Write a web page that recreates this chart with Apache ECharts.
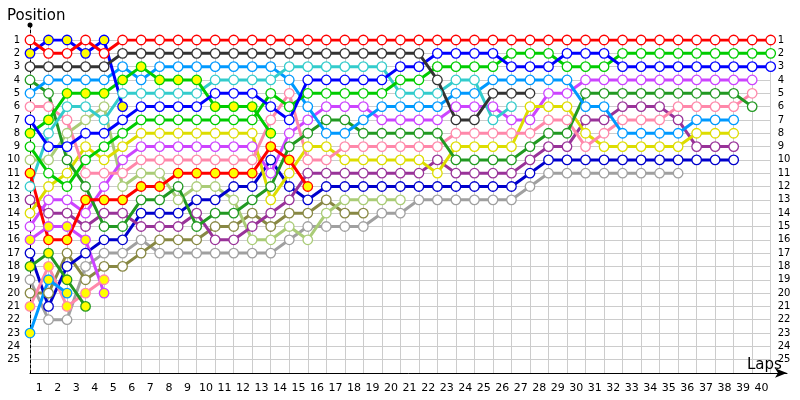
<!DOCTYPE html>
<html><head><meta charset="utf-8">
<script src="https://cdn.jsdelivr.net/npm/echarts@6/dist/echarts.min.js"></script>
<style>html,body{margin:0;padding:0;background:#fff}#c{width:800px;height:400px}</style>
</head><body><div id="c"></div>
<script>
// Tick labels
const lapLabels = ['1','2','3','4','5','6','7','8','9','10','11','12','13','14','15','16','17','18','19','20',
  '21','22','23','24','25','26','27','28','29','30','31','32','33','34','35','36','37','38','39','40'];
const posLabels = ['1','2','3','4','5','6','7','8','9','10','11','12','13','14','15','16','17','18','19','20','21','22','23','24','25'];

// Positions per lap, starting at lap 0 (grid)
const redA    = [1,2,2,1,2, 1,1,1,1,1, 1,1,1,1,1, 1,1,1,1,1, 1,1,1,1,1, 1,1,1,1,1, 1,1,1,1,1, 1,1,1,1,1, 1];
const blueB   = [2,1,1,2,1,6];
const darkA   = [3,3,3,3,3, 2,2,2,2,2, 2,2,2,2,2, 2,2,2,2,2, 2,2,4,7,7, 5,5,5];
const dgreenA = [4,5,10,12,15, 15,13,13,12,15, 14,14,13,12,9, 8,7,7,8,8, 8,8,8,10,10, 10,10,9,8,8, 5,5,5,5,5, 5,5,5,5,6];
const lblueA  = [5,4,4,4,4, 3,4,3,3,3, 3,3,3,3,4, 6,8,8,7,6, 6,6,6,5,5, 4,4,4,4,4, 6,6,8,8,8, 8,7,7,7];
const pinkA   = [6,6,7,11,11, 11,10,10,10,10, 10,10,10,7,5, 10,10,9,9,9, 9,9,9,8,8, 8,8,8,7,7, 9,8,7,7,7, 6,6,6,6,5];
const blueA   = [7,9,9,8,8, 7,6,6,6,6, 5,5,5,6,7, 4,4,4,4,4, 3,3,2,2,2, 2,3,3,3,2, 2,2,3,3,3, 3,3,3,3,3, 3];
const greenB  = [8,7,5,5,5, 4,3,4,4,4, 6,6,6,8];
const greenA  = [9,11,12,10,9, 8,7,7,7,7, 7,7,7,5,6, 5,5,5,5,5, 4,4,3,3,3, 3,2,2,2,3, 3,3,2,2,2, 2,2,2,2,2, 2];
const limeA   = [10,10,8,7,6, 12,11,11,13,12, 12,13,16,16,15, 16,14,13,13,13, 13];
const redB    = [11,16,16,13,13, 13,12,12,11,11, 11,11,11,9,10, 12];
const cyanA   = [12,8,6,6,7, 5,5,5,5,5, 4,4,4,4,3, 3,3,3,3,3, 5,5,5,4,4, 7,6];
const purpleA = [13,14,14,15,14, 14,15,15,15,14, 16,16,15,14,13, 11,11,11,11,11, 11,11,10,11,11, 11,11,10,9,9, 7,7,6,6,6, 7,9,9,9];
const yellowA = [14,12,11,9,10, 9,8,8,8,8, 8,8,8,13,11, 9,9,10,10,10, 10,10,11,9,9, 9,9,6,6,6, 8,9,9,9,9, 9,8,8,8];
const violetA = [15,13,13,14,12, 10,9,9,9,9, 9,9,9,11,8, 7,6,6,6,7, 7,7,7,6,6, 6,7,7,5,5, 4,4,4,4,4, 4,4,4,4,4];
const violetB = [16,15,15,16,20];
const navyA   = [17,21,18,17,16, 16,14,14,14,13, 13,12,12,10,12, 13,12,12,12,12, 12,12,12,12,12, 12,12,11,10,10, 10,10,10,10,10, 10,10,10,10];
const dgreenB = [18,17,19,21];
const greyA   = [19,22,22,18,17, 17,16,17,17,17, 17,17,17,17,16, 15,15,15,15,14, 14,13,13,13,13, 13,13,12,11,11, 11,11,11,11,11, 11];
const oliveA  = [20,20,17,19,18, 18,17,16,16,16, 15,15,14,15,14, 14,13,14,14];
const pinkB   = [21,18,21,20,19];
const lblueB  = [23,19,20];

// Styling per driver (line colour, marker fill)
const WHITE = '#ffffff', YEL = '#ffff00';
const drivers = [
  [greyA,'#a0a0a0',WHITE],[oliveA,'#888844',WHITE],[limeA,'#aacc77',WHITE],
  [navyA,'#0000cc',WHITE],[purpleA,'#993399',WHITE],[violetA,'#cc44ff',WHITE],[violetB,'#cc44ff',YEL],
  [yellowA,'#dddd00',WHITE],[pinkA,'#ff88aa',WHITE],[pinkB,'#ff88aa',YEL],
  [dgreenA,'#229922',WHITE],[dgreenB,'#229922',YEL],
  [lblueA,'#0099ff',WHITE],[lblueB,'#0099ff',YEL],[cyanA,'#33cccc',WHITE],
  [greenA,'#00cc00',WHITE],[greenB,'#00cc00',YEL],
  [redB,'#ff0000',YEL],[blueA,'#0000ff',WHITE],[blueB,'#0000ff',YEL],
  [darkA,'#333333',WHITE],[redA,'#ff0000',WHITE]
];

const FONT = 'DejaVu Sans';
const series = drivers.map(([arr,col,fill]) => ({
  type:'line', xAxisIndex:0, yAxisIndex:0,
  data: arr.map((p,i)=>[i,p]),
  symbol:'circle', symbolSize:9.5, showAllSymbol:true,
  lineStyle:{color:col, width:3},
  itemStyle:{color:fill, borderColor:col, borderWidth:1.3},
  emphasis:{disabled:true}, animation:false
}));

const chart = echarts.init(document.getElementById('c'), null, {renderer:'canvas'});
chart.setOption({
  animation:false,
  backgroundColor:'#ffffff',
  title:[
    {text:'Position', left:2, top:4, textStyle:{fontFamily:FONT, fontSize:15, fontWeight:'normal', color:'#000'}},
    {text:'Laps', left:742, top:353, textStyle:{fontFamily:FONT, fontSize:15, fontWeight:'normal', color:'#000'}}
  ],
  grid:[
    {left:30, right:29.3, top:40, bottom:27},
    {left:30, right:13, top:25, bottom:27}
  ],
  xAxis:[
    {gridIndex:0, type:'value', min:0, max:40, interval:1,
     axisLine:{show:false}, axisTick:{show:false}, axisLabel:{show:false},
     splitLine:{show:true, lineStyle:{color:'#cccccc', width:1}}},
    {gridIndex:0, type:'category', data:lapLabels, boundaryGap:true, position:'bottom',
     axisLine:{show:false}, axisTick:{show:false}, splitLine:{show:false},
     axisLabel:{interval:0, color:'#000', fontFamily:FONT, fontSize:11, margin:10}},
    {gridIndex:1, type:'value', min:0, max:1,
     axisLine:{show:true, lineStyle:{color:'#000', width:1}, symbol:['none','arrow'], symbolSize:[7,12]},
     axisTick:{show:false}, axisLabel:{show:false}, splitLine:{show:false}}
  ],
  yAxis:[
    {gridIndex:0, type:'value', min:1, max:26, interval:1, inverse:true,
     axisLine:{show:false}, axisTick:{show:false},
     axisLabel:{color:'#000', fontFamily:FONT, fontSize:10, margin:10, formatter:v=>posLabels[v-1]||''},
     splitLine:{show:true, lineStyle:{color:'#cccccc', width:1}}},
    {gridIndex:0, type:'value', min:1, max:26, interval:1, inverse:true, position:'right',
     axisLine:{show:false}, axisTick:{show:false}, splitLine:{show:false},
     axisLabel:{color:'#000', fontFamily:FONT, fontSize:10, margin:7, formatter:v=>posLabels[v-1]||''}},
    {gridIndex:1, type:'value', min:0, max:1,
     axisLine:{show:true, lineStyle:{color:'#000', width:1, type:[3,2]}, symbol:['none','circle'], symbolSize:[5,5]},
     axisTick:{show:false}, axisLabel:{show:false}, splitLine:{show:false}}
  ],
  series: series
});
</script></body></html>
